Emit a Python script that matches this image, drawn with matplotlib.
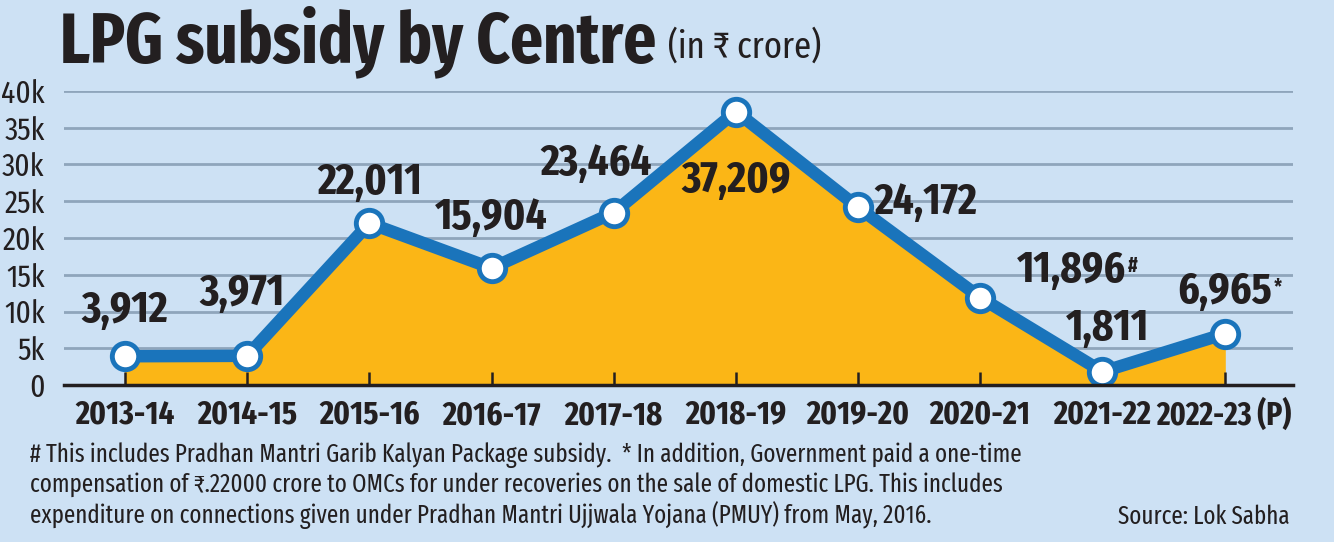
import matplotlib.pyplot as plt
from matplotlib import font_manager

years = ["2013-14", "2014-15", "2015-16", "2016-17", "2017-18",
         "2018-19", "2019-20", "2020-21", "2021-22", "2022-23 (P)"]
subsidy = [3912, 3971, 22011, 15904, 23464, 37209, 24172, 11896, 1811, 6965]
value_labels = ["3,912", "3,971", "22,011", "15,904", "23,464",
                "37,209", "24,172", "11,896", "1,811", "6,965"]
marks = {7: "#", 9: "*"}
yticks = [0, 5000, 10000, 15000, 20000, 25000, 30000, 35000, 40000]
ytick_labels = ["0", "5k", "10k", "15k", "20k", "25k", "30k", "35k", "40k"]

# label offsets in points (placement only)
offsets = [(0, 33), (-4, 45), (0, 29), (0, 36), (-13, 35),
           (0, -50), (49, 3), (66, 19), (4, 31), (0, 30)]

names = {f.name for f in font_manager.fontManager.ttflist}
fam = [n for n in ["Fira Sans Extra Condensed", "PT Sans Narrow"] if n in names]
fam += ["DejaVu Sans"]
plt.rcParams["font.family"] = fam

bg = "#cde1f4"
orange = "#fbb616"
blue = "#1a74bb"
ink = "#231f20"

fig = plt.figure(figsize=(13.34, 5.42), dpi=100, facecolor=bg)
ax = fig.add_axes([64 / 1334, 1 - 385 / 542, (1293 - 64) / 1334, (385 - 91) / 542])
ax.set_facecolor(bg)

x = list(range(len(years)))
ax.fill_between(x, subsidy, 0, color=orange, zorder=2)
ax.plot(x, subsidy, color=blue, lw=9, zorder=4, solid_capstyle="round")
ax.plot(x, subsidy, "o", ms=19, mfc="white", mec=blue, mew=3.5, zorder=5)
ax.vlines(x, 0, 1800, color=ink, lw=1.8, zorder=3)

ax.set_xlim(-0.5, 9.56)
ax.set_ylim(0, 40000)
ax.set_yticks(yticks)
ax.set_yticklabels(ytick_labels, fontsize=23, color=ink)
ax.set_xticks(x[:-1])
ax.set_xticklabels(years[:-1], fontsize=24, fontweight="bold", color=ink)
ax.tick_params(axis="both", length=0)
ax.tick_params(axis="x", pad=10)
ax.tick_params(axis="y", pad=14)
ax.grid(axis="y", color="#8fa5bb", lw=2, zorder=1)
ax.set_axisbelow(True)
for s in ["top", "right", "left"]:
    ax.spines[s].set_visible(False)
ax.spines["bottom"].set_color(ink)
ax.spines["bottom"].set_linewidth(2.5)
ax.spines["bottom"].set_zorder(6)

# last category label, pushed right so "(P)" fits like the original
ax.annotate(years[-1], xy=(x[-1], 0), xytext=(48, -10), textcoords="offset points",
            ha="right", va="top", fontsize=23, fontweight="bold", color=ink)

for i, lab in enumerate(value_labels):
    t = ax.annotate(lab, xy=(i, subsidy[i]), xytext=offsets[i],
                    textcoords="offset points", ha="center", va="center",
                    fontsize=32, fontweight="bold", color=ink, zorder=7)
    if i in marks:
        ax.annotate(marks[i], xy=(1, 1), xycoords=t, xytext=(1, -4),
                    textcoords="offset points", ha="left", va="top",
                    fontsize=15, fontweight="bold", color=ink, zorder=7)

fig.text(60 / 1334, 1 - 42 / 542, "LPG subsidy by Centre", fontsize=50.5,
         fontweight="bold", color=ink, va="center", ha="left")
fig.text(668 / 1334, 1 - 47 / 542, "(in \u20b9 crore)", fontsize=27,
         color=ink, va="center", ha="left")

notes = ("# This includes Pradhan Mantri Garib Kalyan Package subsidy.  * In addition, Government paid a one-time\n"
         "compensation of \u20b9.22000 crore to OMCs for under recoveries on the sale of domestic LPG. This includes\n"
         "expenditure on connections given under Pradhan Mantri Ujjwala Yojana (PMUY) from May, 2016.")
fig.text(30 / 1334, 1 - 442 / 542, notes, fontsize=18, color=ink, va="top",
         ha="left", linespacing=1.2)
fig.text(1290 / 1334, 1 - 517 / 542, "Source: Lok Sabha", fontsize=18,
         color=ink, va="center", ha="right")

fig.savefig("out.png", dpi=100, facecolor=bg)
